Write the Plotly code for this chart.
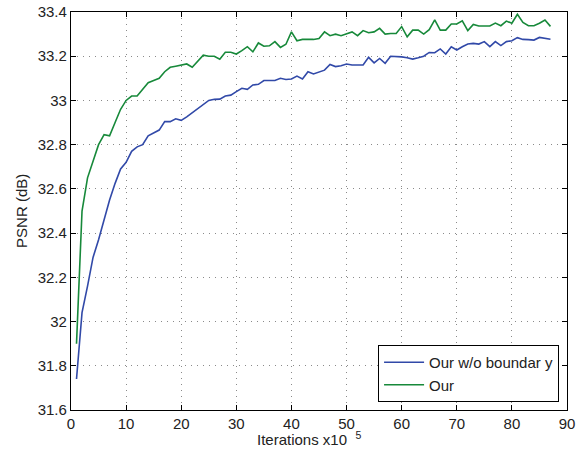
import plotly.graph_objects as go

iterations = list(range(1, 88))

psnr_wo_boundary = [
    31.74, 32.04, 32.16, 32.29, 32.37, 32.46, 32.55, 32.625, 32.69, 32.72,
    32.77, 32.79, 32.80, 32.84, 32.855, 32.866, 32.904, 32.904, 32.917, 32.91,
    32.926, 32.945, 32.965, 32.985, 33.00, 33.005, 33.006, 33.02, 33.024, 33.04,
    33.055, 33.05, 33.07, 33.073, 33.09, 33.09, 33.09, 33.10, 33.095, 33.097,
    33.11, 33.097, 33.13, 33.12, 33.127, 33.137, 33.163, 33.153, 33.157, 33.165,
    33.16, 33.16, 33.16, 33.195, 33.17, 33.19, 33.168, 33.20, 33.20, 33.197,
    33.193, 33.187, 33.193, 33.20, 33.217, 33.216, 33.233, 33.21, 33.243, 33.228,
    33.243, 33.255, 33.258, 33.255, 33.266, 33.243, 33.266, 33.248, 33.266, 33.27,
    33.284, 33.276, 33.275, 33.273, 33.285, 33.28, 33.277,
]

psnr_our = [
    31.90, 32.50, 32.65, 32.73, 32.80, 32.845, 32.84, 32.90, 32.96, 33.00,
    33.02, 33.02, 33.05, 33.08, 33.09, 33.10, 33.13, 33.15, 33.155, 33.16,
    33.165, 33.15, 33.18, 33.205, 33.20, 33.20, 33.186, 33.218, 33.218, 33.21,
    33.225, 33.243, 33.22, 33.26, 33.245, 33.247, 33.266, 33.24, 33.254, 33.31,
    33.27, 33.276, 33.276, 33.276, 33.28, 33.31, 33.293, 33.30, 33.293, 33.30,
    33.31, 33.293, 33.316, 33.306, 33.31, 33.326, 33.30, 33.303, 33.303, 33.334,
    33.288, 33.318, 33.318, 33.30, 33.32, 33.364, 33.318, 33.318, 33.346, 33.346,
    33.36, 33.316, 33.344, 33.337, 33.338, 33.337, 33.35, 33.338, 33.359, 33.349,
    33.39, 33.353, 33.338, 33.338, 33.349, 33.364, 33.335,
]

series_names = ["Our w/o boundar y", "Our"]
x_ticks = [0, 10, 20, 30, 40, 50, 60, 70, 80, 90]
y_ticks = [31.6, 31.8, 32.0, 32.2, 32.4, 32.6, 32.8, 33.0, 33.2, 33.4]
y_tick_labels = ["31.6", "31.8", "32", "32.2", "32.4", "32.6", "32.8", "33", "33.2", "33.4"]
x_title = "Iterations x10&nbsp;&nbsp;<sup>5</sup>"
y_title = "PSNR (dB)"

fig = go.Figure()
fig.add_trace(go.Scatter(x=iterations, y=psnr_wo_boundary, mode="lines",
                         name=series_names[0], line=dict(color="#3149a8", width=1.6)))
fig.add_trace(go.Scatter(x=iterations, y=psnr_our, mode="lines",
                         name=series_names[1], line=dict(color="#17893a", width=1.6)))

axis_common = dict(
    showline=True, linecolor="black", linewidth=1.2, mirror="allticks",
    ticks="inside", ticklen=5, tickcolor="black",
    showgrid=True, gridcolor="#8a8a8a", griddash="1px,5px", gridwidth=1.2,
    zeroline=False, tickfont=dict(size=15, color="#222"), automargin=False,
)

fig.update_xaxes(range=[0, 90], tickvals=x_ticks, **axis_common)
fig.update_yaxes(range=[31.6, 33.4], tickvals=y_ticks, ticktext=y_tick_labels, **axis_common)

fig.add_annotation(text=x_title, xref="paper", yref="paper", x=0.48, y=-0.1,
                   xanchor="center", yanchor="bottom", showarrow=False,
                   font=dict(size=15, color="#222"))
fig.add_annotation(text=y_title, xref="paper", yref="paper", x=-0.101, y=0.5,
                   xanchor="center", yanchor="middle", textangle=-90, showarrow=False,
                   font=dict(size=15, color="#222"))

fig.update_layout(
    width=585, height=451,
    margin=dict(l=71, r=18, t=12, b=41, autoexpand=False),
    paper_bgcolor="white", plot_bgcolor="white",
    font=dict(family="Liberation Sans, Arial, sans-serif", color="#222"),
    legend=dict(x=0.984, y=0.02, xanchor="right", yanchor="bottom",
                bgcolor="white", bordercolor="black", borderwidth=1,
                font=dict(size=15), tracegroupgap=0, itemwidth=40),
    showlegend=True,
)

fig.write_html(
    "out.html",
    config={"displayModeBar": False},
    post_script="document.documentElement.style.margin='0';document.body.style.margin='0';document.body.style.padding='0';",
)
